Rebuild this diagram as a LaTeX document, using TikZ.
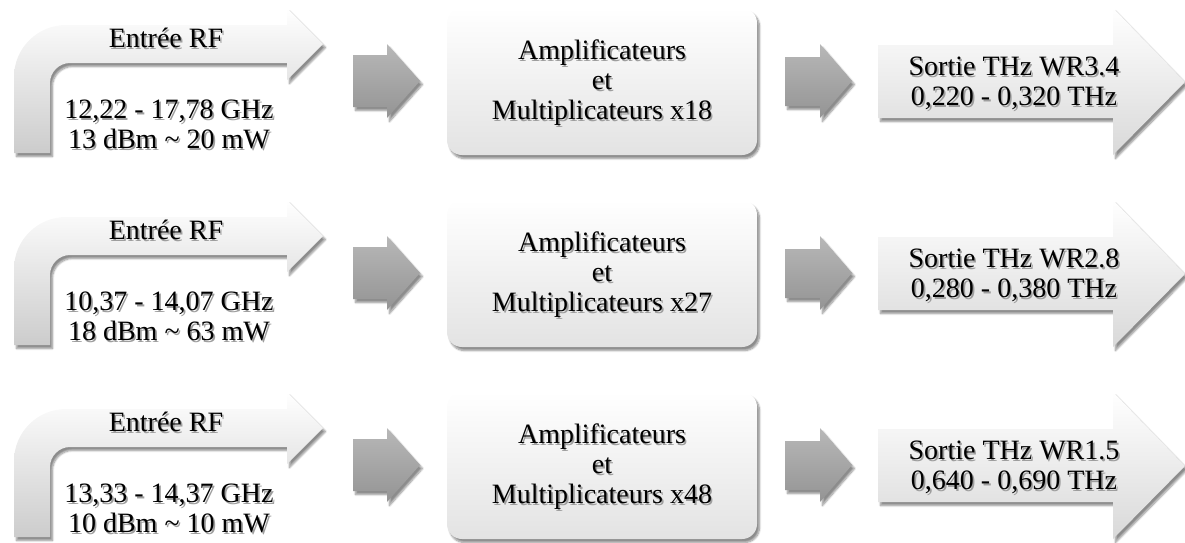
\documentclass[tikz,border=0pt]{standalone}
\usepackage{fontspec}
\setmainfont{Liberation Serif}
\usetikzlibrary{shadows.blur}
\newcommand\shtxt[1]{\makebox[0pt][l]{\hspace{1.6pt}\raisebox{-2pt}{\textcolor{black!38}{#1}}}#1}
\begin{document}
\begin{tikzpicture}[x=1pt,y=-1pt,
  txt/.style={font=\fontsize{28}{30}\selectfont, inner sep=0pt, align=center},
  softshadow/.style={blur shadow={shadow xshift=2.5pt,shadow yshift=-3.5pt,shadow opacity=45,shadow blur steps=8}},
  bentarrow/.style={top color=white, bottom color=black!20, softshadow},
  grayarrow/.style={top color=black!28, bottom color=black!42, softshadow},
  procbox/.style={top color=white, bottom color=black!11, rounded corners=15pt, softshadow},
  outarrow/.style={top color=white, bottom color=black!15, softshadow}]
\useasboundingbox (0,0) rectangle (1185,542);
\foreach \i/\ga/\gb/\mul/\sa/\sb in {
  0/{12,22 - 17,78 GHz}/{13 dBm \textasciitilde{} 20 mW}/18/{Sortie THz WR3.4}/{0,220 - 0,320 THz},
  1/{10,37 - 14,07 GHz}/{18 dBm \textasciitilde{} 63 mW}/27/{Sortie THz WR2.8}/{0,280 - 0,380 THz},
  2/{13,33 - 14,37 GHz}/{10 dBm \textasciitilde{} 10 mW}/48/{Sortie THz WR1.5}/{0,640 - 0,690 THz}}{
\begin{scope}[shift={(0,192*\i)}]
  % bent input arrow
  \path[bentarrow] (14,153) -- (14,77) .. controls (14,48.3) and (37.3,25) .. (66,25)
     -- (287,25) -- (287,8) -- (323,44) -- (287,80) -- (287,63) -- (70,63)
     .. controls (59,63) and (50,72) .. (50,83) -- (50,153) -- cycle;
  \node[txt, anchor=base] (in\i) at (166,47) {\shtxt{Entrée RF}};
  \node[txt] (gh\i) at (169,125) {\shtxt{\ga}\\\shtxt{\gb}};
  % gray arrow 1
  \path[grayarrow] (353,55) -- (387,55) -- (387,44) -- (420,81) -- (387,118) -- (387,107) -- (353,107) -- cycle;
  % process box
  \path[procbox] (447,8) rectangle (757,155);
  \node[txt] (amp\i) at (602,84) {\shtxt{Amplificateurs}\\\shtxt{et}\\\shtxt{Multiplicateurs x\mul}};
  % gray arrow 2
  \path[grayarrow] (785,57) -- (820,57) -- (820,44) -- (852,81) -- (820,118) -- (820,106) -- (785,106) -- cycle;
  % output arrow
  \path[outarrow] (878,45) -- (1113,45) -- (1113,8) -- (1185,82) -- (1113,155) -- (1113,118) -- (878,118) -- cycle;
  \node[txt] (out\i) at (1014,84) {\shtxt{\sa}\\\shtxt{\sb}};
\end{scope}
}
\end{tikzpicture}
\end{document}
